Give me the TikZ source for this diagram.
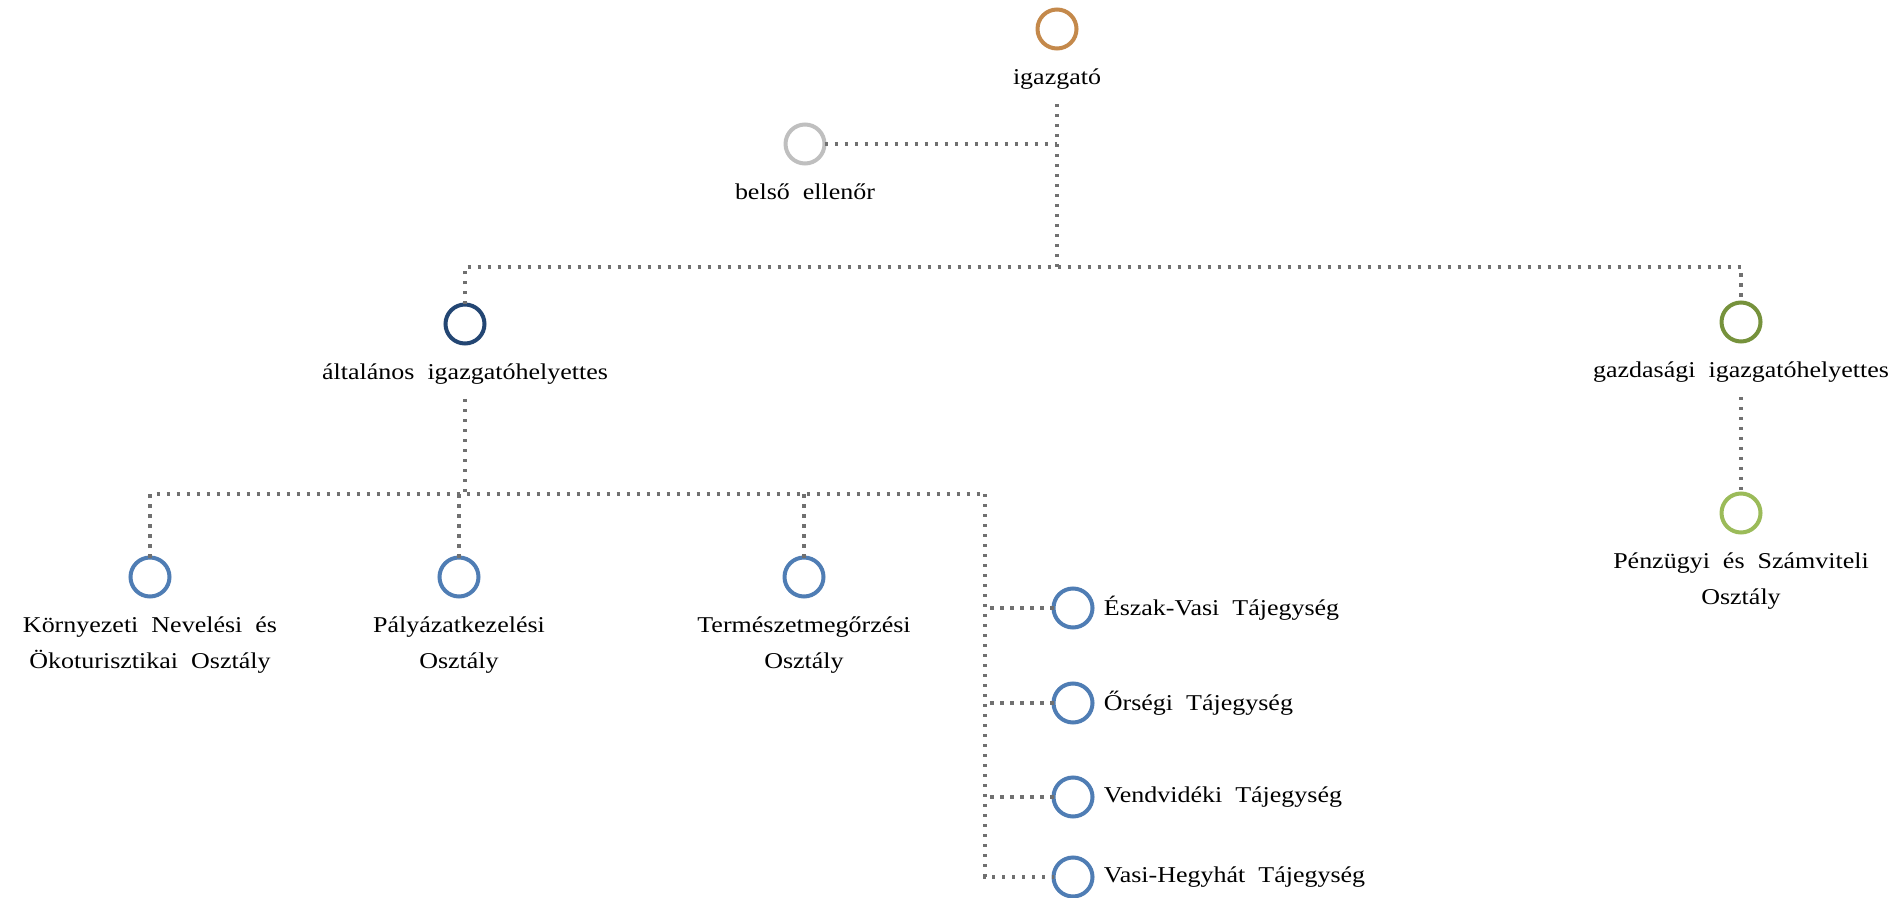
\documentclass[tikz,border=0pt]{standalone}
\usepackage{fontspec}
\setmainfont{Liberation Serif}[FakeStretch=1.15,WordSpace=2]
\usetikzlibrary{positioning}

\definecolor{headc}{RGB}{196,137,75}
\definecolor{auditc}{RGB}{191,191,191}
\definecolor{deputyc}{RGB}{35,70,115}
\definecolor{financec}{RGB}{118,146,60}
\definecolor{accountc}{RGB}{155,187,89}
\definecolor{deptc}{RGB}{79,125,180}
\definecolor{linkc}{RGB}{112,112,112}

\begin{document}
\begin{tikzpicture}[x=0.5pt,y=-0.5pt,
   unitring/.style={circle,draw=#1,line width=2pt,minimum size=19.5pt,
                    inner sep=0pt,outer sep=0pt},
   lbl/.style={inner sep=0pt,align=center,font=\fontsize{11.3}{18}\selectfont},
   link/.style={draw=linkc,line width=1.7pt,dash pattern=on 1.7pt off 3.3pt},
   node distance=10pt]

\useasboundingbox (0,0) rectangle (1888,898);

% top
\node[unitring=headc] (igazgato) at (1057,29) {};
\node[lbl,below=of igazgato] (igazgato-t) {igazgató};
\node[unitring=auditc] (belso) at (805,144) {};
\node[lbl,below=of belso] (belso-t) {belső ellenőr};

% deputies
\node[unitring=deputyc] (altalanos) at (465,324) {};
\node[lbl,below=of altalanos] (altalanos-t) {általános igazgatóhelyettes};
\node[unitring=financec] (gazdasagi) at (1741,322) {};
\node[lbl,below=of gazdasagi] (gazdasagi-t) {gazdasági igazgatóhelyettes};
\node[unitring=accountc] (penzugyi) at (1741,513) {};
\node[lbl,below=of penzugyi] (penzugyi-t) {Pénzügyi és Számviteli\\Osztály};

% departments
\node[unitring=deptc] (kornyezeti) at (150,577) {};
\node[lbl,below=of kornyezeti] (kornyezeti-t) {Környezeti Nevelési és\\Ökoturisztikai Osztály};
\node[unitring=deptc] (palyazat) at (459,577) {};
\node[lbl,below=of palyazat] (palyazat-t) {Pályázatkezelési\\Osztály};
\node[unitring=deptc] (termeszet) at (804,577) {};
\node[lbl,below=of termeszet] (termeszet-t) {Természetmegőrzési\\Osztály};

% landscape units
\node[unitring=deptc] (eszak) at (1073,608) {};
\node[lbl,right=5.5pt of eszak] (eszak-t) {Észak-Vasi Tájegység};
\node[unitring=deptc] (orseg) at (1073,703) {};
\node[lbl,right=5.5pt of orseg] (orseg-t) {Őrségi Tájegység};
\node[unitring=deptc] (vend) at (1073,797) {};
\node[lbl,right=5.5pt of vend] (vend-t) {Vendvidéki Tájegység};
\node[unitring=deptc] (vasi) at (1073,877) {};
\node[lbl,right=5.5pt of vasi] (vasi-t) {Vasi-Hegyhát Tájegység};

% connectors
\coordinate (j1) at (1057,267);
\coordinate (j2) at (985,494);
\draw[link,shorten <=7pt] (igazgato-t.south) -- (j1);
\draw[link] (belso.east) -- (belso.east -| j1);
\draw[link] (altalanos.north) |- (j1) -| (gazdasagi.north);
\draw[link,shorten <=7pt] (penzugyi.north |- gazdasagi-t.south) -- (penzugyi.north);
\draw[link,shorten <=7pt] (altalanos-t.south) -- (altalanos-t.south |- j2);
\draw[link] (kornyezeti.north) |- (j2);
\draw[link] (palyazat.north) -- (palyazat.north |- j2);
\draw[link] (termeszet.north) -- (termeszet.north |- j2);
\draw[link] (j2) |- (vasi.west);
\foreach \u in {eszak,orseg,vend}
  \draw[link] (\u.west) -- (\u.west -| j2);

\end{tikzpicture}
\end{document}
